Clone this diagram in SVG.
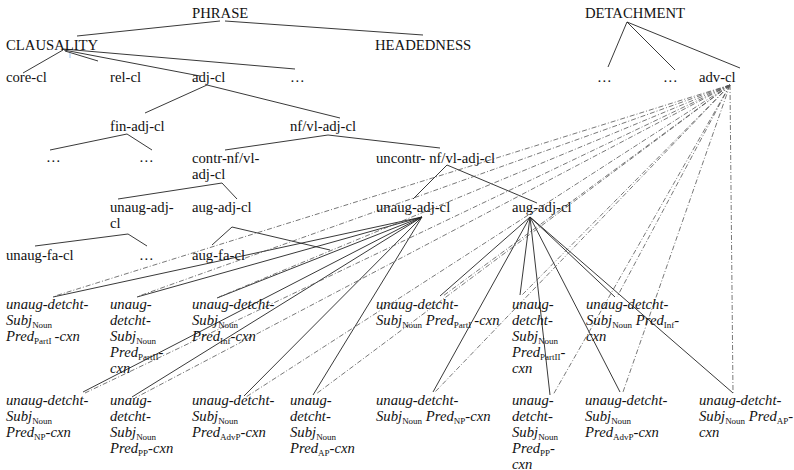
<svg xmlns="http://www.w3.org/2000/svg" width="794" height="470" viewBox="0 0 794 470">
<style>
text{font-family:"Liberation Serif","Times New Roman",serif;font-size:14.7px;fill:#111}
.it{font-style:italic}
.sub{font-size:9px;font-style:normal}
.e{stroke:#222;stroke-width:0.9;fill:none}
.d{stroke:#555;stroke-width:0.8;stroke-dasharray:5 2 1 2;fill:none}
</style>
<rect width="794" height="470" fill="#fff"/>
<g id="connectors">
<g id="tree-edges" class="e">
<line x1="220" y1="21" x2="77" y2="36"/>
<line x1="225" y1="21" x2="423" y2="35"/>
<line x1="627" y1="22" x2="608" y2="67"/>
<line x1="627" y1="22" x2="675" y2="70"/>
<line x1="627" y1="22" x2="740" y2="68"/>
<line x1="63" y1="50" x2="23" y2="73"/>
<line x1="65" y1="51" x2="98" y2="61"/>
<line x1="64" y1="50" x2="200" y2="76"/>
<line x1="63" y1="49" x2="295" y2="69"/>
<line x1="207" y1="85" x2="145" y2="113"/>
<line x1="207" y1="85" x2="340" y2="118"/>
<line x1="127" y1="134" x2="50" y2="150"/>
<line x1="127" y1="134" x2="152" y2="150"/>
<line x1="328" y1="135" x2="225" y2="150"/>
<line x1="328" y1="135" x2="440" y2="148"/>
<line x1="222" y1="183" x2="118" y2="199"/>
<line x1="222" y1="183" x2="237" y2="199"/>
<line x1="128" y1="234" x2="35" y2="246"/>
<line x1="128" y1="234" x2="147" y2="246"/>
<line x1="232" y1="227" x2="212" y2="245"/>
<line x1="232" y1="227" x2="330" y2="250"/>
<line x1="447" y1="165" x2="413" y2="199"/>
<line x1="447" y1="165" x2="537" y2="203"/>
</g>
<g id="unaug-edges" class="e">
<line x1="422" y1="217" x2="53" y2="297"/>
<line x1="422" y1="217" x2="137" y2="297"/>
<line x1="422" y1="217" x2="217" y2="298"/>
<line x1="422" y1="217" x2="83" y2="392"/>
<line x1="422" y1="217" x2="132" y2="397"/>
<line x1="422" y1="217" x2="244" y2="396"/>
<line x1="422" y1="217" x2="313" y2="395"/>
</g>
<g id="aug-edges" class="e">
<line x1="530" y1="217" x2="440" y2="296"/>
<line x1="530" y1="217" x2="520" y2="295"/>
<line x1="530" y1="217" x2="615" y2="297"/>
<line x1="530" y1="217" x2="433" y2="392"/>
<line x1="530" y1="217" x2="550" y2="395"/>
<line x1="530" y1="217" x2="620" y2="392"/>
<line x1="530" y1="217" x2="733" y2="393"/>
</g>
<g id="adv-edges" class="d">
<line x1="730" y1="85" x2="55" y2="296"/>
<line x1="730" y1="85" x2="139" y2="296"/>
<line x1="730" y1="85" x2="219" y2="297"/>
<line x1="730" y1="85" x2="85" y2="393"/>
<line x1="730" y1="85" x2="135" y2="398"/>
<line x1="730" y1="85" x2="246" y2="397"/>
<line x1="730" y1="85" x2="316" y2="394"/>
<line x1="730" y1="85" x2="443" y2="296"/>
<line x1="730" y1="85" x2="522" y2="295"/>
<line x1="730" y1="85" x2="617" y2="297"/>
<line x1="730" y1="85" x2="435" y2="392"/>
<line x1="730" y1="85" x2="553" y2="395"/>
<line x1="730" y1="85" x2="623" y2="392"/>
<line x1="730" y1="85" x2="733" y2="393"/>
</g>
<line x1="70" y1="53" x2="70" y2="58" stroke="#9ec3f0" stroke-width="1"/>
</g>
<g id="phrase"><text x="192" y="18">PHRASE</text></g>
<g id="detachment"><text x="585" y="18">DETACHMENT</text></g>
<g id="clausality"><text x="6" y="50">CLAUSALITY</text></g>
<g id="headedness"><text x="375" y="50">HEADEDNESS</text></g>
<g id="core-cl"><text x="6" y="82">core-cl</text></g>
<g id="rel-cl"><text x="110" y="82">rel-cl</text></g>
<g id="adj-cl"><text x="192" y="82">adj-cl</text></g>
<g id="etc-clausality"><text x="290" y="82">…</text></g>
<g id="etc-detach-1"><text x="597" y="82">…</text></g>
<g id="etc-detach-2"><text x="663" y="82">…</text></g>
<g id="adv-cl"><text x="699" y="82">adv-cl</text></g>
<g id="fin-adj-cl"><text x="110" y="131">fin-adj-cl</text></g>
<g id="nfvl-adj-cl"><text x="290" y="131">nf/vl-adj-cl</text></g>
<g id="etc-fin-1"><text x="46" y="162">…</text></g>
<g id="etc-fin-2"><text x="139" y="162">…</text></g>
<g id="contr-nfvl-adj-cl"><text x="192" y="163">contr-nf/vl-</text><text x="192" y="179">adj-cl</text></g>
<g id="uncontr-nfvl-adj-cl"><text x="376" y="163">uncontr- nf/vl-adj-cl</text></g>
<g id="unaug-adj-cl-a"><text x="110" y="212">unaug-adj-</text><text x="110" y="228">cl</text></g>
<g id="aug-adj-cl-a"><text x="192" y="212">aug-adj-cl</text></g>
<g id="unaug-adj-cl-b"><text x="376" y="212">unaug-adj-cl</text></g>
<g id="aug-adj-cl-b"><text x="512" y="212">aug-adj-cl</text></g>
<g id="unaug-fa-cl"><text x="6" y="260">unaug-fa-cl</text></g>
<g id="etc-unaug"><text x="139" y="260">…</text></g>
<g id="aug-fa-cl"><text x="192" y="260">aug-fa-cl</text></g>

<g id="cxn-L1" class="it">
<text class="it" x="6" y="309">unaug-detcht-</text>
<text class="it" x="6" y="325">Subj<tspan class="sub" dy="3">Noun</tspan></text>
<text class="it" x="6" y="341">Pred<tspan class="sub" dy="3">PartI</tspan><tspan dy="-3" dx="3">-cxn</tspan></text>
</g>
<g id="cxn-L2">
<text class="it" x="110" y="309">unaug-</text>
<text class="it" x="110" y="325">detcht-</text>
<text class="it" x="110" y="341">Subj<tspan class="sub" dy="3">Noun</tspan></text>
<text class="it" x="110" y="357">Pred<tspan class="sub" dy="3">PartII</tspan><tspan dy="-3">-</tspan></text>
<text class="it" x="110" y="373">cxn</text>
</g>
<g id="cxn-L3">
<text class="it" x="192" y="309">unaug-detcht-</text>
<text class="it" x="192" y="325">Subj<tspan class="sub" dy="3">Noun</tspan></text>
<text class="it" x="192" y="341">Pred<tspan class="sub" dy="3">Inf</tspan><tspan dy="-3">-cxn</tspan></text>
</g>
<g id="cxn-R1">
<text class="it" x="376" y="309">unaug-detcht-</text>
<text class="it" x="376" y="325">Subj<tspan class="sub" dy="3">Noun</tspan><tspan dy="-3"> Pred</tspan><tspan class="sub" dy="3">PartI</tspan><tspan dy="-3" dx="3">-cxn</tspan></text>
</g>
<g id="cxn-R2">
<text class="it" x="512" y="309">unaug-</text>
<text class="it" x="512" y="325">detcht-</text>
<text class="it" x="512" y="341">Subj<tspan class="sub" dy="3">Noun</tspan></text>
<text class="it" x="512" y="357">Pred<tspan class="sub" dy="3">PartII</tspan><tspan dy="-3">-</tspan></text>
<text class="it" x="512" y="373">cxn</text>
</g>
<g id="cxn-R3">
<text class="it" x="586" y="309">unaug-detcht-</text>
<text class="it" x="586" y="325">Subj<tspan class="sub" dy="3">Noun</tspan><tspan dy="-3"> Pred</tspan><tspan class="sub" dy="3">Inf</tspan><tspan dy="-3">-</tspan></text>
<text class="it" x="586" y="341">cxn</text>
</g>
<g id="cxn-L4">
<text class="it" x="6" y="405">unaug-detcht-</text>
<text class="it" x="6" y="421">Subj<tspan class="sub" dy="3">Noun</tspan></text>
<text class="it" x="6" y="437">Pred<tspan class="sub" dy="3">NP</tspan><tspan dy="-3">-cxn</tspan></text>
</g>
<g id="cxn-L5">
<text class="it" x="110" y="405">unaug-</text>
<text class="it" x="110" y="421">detcht-</text>
<text class="it" x="110" y="437">Subj<tspan class="sub" dy="3">Noun</tspan></text>
<text class="it" x="110" y="453">Pred<tspan class="sub" dy="3">PP</tspan><tspan dy="-3">-cxn</tspan></text>
</g>
<g id="cxn-L6">
<text class="it" x="192" y="405">unaug-detcht-</text>
<text class="it" x="192" y="421">Subj<tspan class="sub" dy="3">Noun</tspan></text>
<text class="it" x="192" y="437">Pred<tspan class="sub" dy="3">AdvP</tspan><tspan dy="-3">-cxn</tspan></text>
</g>
<g id="cxn-L7">
<text class="it" x="290" y="405">unaug-</text>
<text class="it" x="290" y="421">detcht-</text>
<text class="it" x="290" y="437">Subj<tspan class="sub" dy="3">Noun</tspan></text>
<text class="it" x="290" y="453">Pred<tspan class="sub" dy="3">AP</tspan><tspan dy="-3">-cxn</tspan></text>
</g>
<g id="cxn-R4">
<text class="it" x="376" y="405">unaug-detcht-</text>
<text class="it" x="376" y="421">Subj<tspan class="sub" dy="3">Noun</tspan><tspan dy="-3"> Pred</tspan><tspan class="sub" dy="3">NP</tspan><tspan dy="-3">-cxn</tspan></text>
</g>
<g id="cxn-R5">
<text class="it" x="512" y="405">unaug-</text>
<text class="it" x="512" y="421">detcht-</text>
<text class="it" x="512" y="437">Subj<tspan class="sub" dy="3">Noun</tspan></text>
<text class="it" x="512" y="453">Pred<tspan class="sub" dy="3">PP</tspan><tspan dy="-3">-</tspan></text>
<text class="it" x="512" y="469">cxn</text>
</g>
<g id="cxn-R6">
<text class="it" x="585" y="405">unaug-detcht-</text>
<text class="it" x="585" y="421">Subj<tspan class="sub" dy="3">Noun</tspan></text>
<text class="it" x="585" y="437">Pred<tspan class="sub" dy="3">AdvP</tspan><tspan dy="-3">-cxn</tspan></text>
</g>
<g id="cxn-R7">
<text class="it" x="699" y="405">unaug-detcht-</text>
<text class="it" x="699" y="421">Subj<tspan class="sub" dy="3">Noun</tspan><tspan dy="-3"> Pred</tspan><tspan class="sub" dy="3">AP</tspan><tspan dy="-3">-</tspan></text>
<text class="it" x="699" y="437">cxn</text>
</g>
</svg>
